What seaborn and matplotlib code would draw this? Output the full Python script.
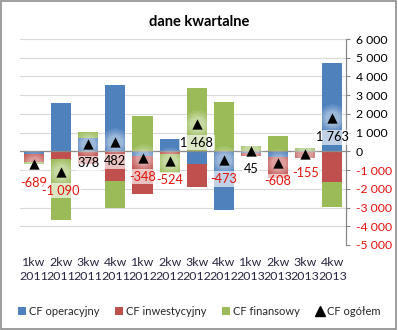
import numpy as np
import pandas as pd
import seaborn as sns
import matplotlib
matplotlib.use("Agg")
import matplotlib.pyplot as plt
from matplotlib.patches import Patch, Rectangle
from matplotlib.lines import Line2D

sns.set_theme(style="white")
plt.rcParams["font.family"] = ["Lato", "DejaVu Sans"]

# Quarterly cash flow data (thousands)
quarters = ["1kw", "2kw", "3kw", "4kw"] * 3
years = ["2011"] * 4 + ["2012"] * 4 + ["2013"] * 4
categories = [f"{q}\n{y}" for q, y in zip(quarters, years)]

cf_operacyjny = [-130, 2560, 720, 3530, -250, 640, -650, -3133, -110, -300, 0, 4720]
cf_inwestycyjny = [-460, -420, -652, -1600, -2010, -150, -1250, 0, -150, -1110, -335, -1620]
cf_finansowy = [-99, -3230, 310, -1448, 1912, -1014, 3368, 2660, 305, 802, 180, -1337]
cf_ogolem = [-689, -1090, 378, 482, -348, -524, 1468, -473, 45, -608, -155, 1763]

series_names = ["CF operacyjny", "CF inwestycyjny", "CF finansowy"]
series_colors = ["#4F81BD", "#C0504D", "#9BBB59"]
series_values = [cf_operacyjny, cf_inwestycyjny, cf_finansowy]

y_ticks = list(range(-5000, 6001, 1000))

fig = plt.figure(figsize=(3.98, 3.30), dpi=100)
ax = fig.add_axes([0.0513, 0.2576, 0.8180, 0.6242])

# Excel-style stacking: positives stack upward, negatives downward, in series order
vals = np.array(series_values, dtype=float)
pos = np.clip(vals, 0, None)
neg = np.clip(vals, None, 0)
pos_cum = np.cumsum(pos, axis=0)
neg_cum = np.cumsum(neg, axis=0)

for k in reversed(range(len(series_names))):
    for cum in (pos_cum[k], neg_cum[k]):
        df = pd.DataFrame({"kat": categories, "v": cum})
        sns.barplot(data=df, x="kat", y="v", order=categories, color=series_colors[k],
                    saturation=1, width=0.74, ax=ax, errorbar=None, linewidth=0, zorder=2)

xs = np.arange(len(categories))

# soft glow around the total markers
for size, alpha in [(420, 0.10), (300, 0.12), (200, 0.15), (120, 0.18)]:
    ax.scatter(xs, cf_ogolem, s=size, color="white", alpha=alpha, linewidths=0, zorder=3)

tot_df = pd.DataFrame({"kat": xs, "v": cf_ogolem})
sns.scatterplot(data=tot_df, x="kat", y="v", marker="^", color="black", s=55,
                edgecolor="black", linewidth=0, ax=ax, zorder=4, legend=False)

def fmt(v):
    s = f"{abs(int(v)):,}".replace(",", " ")
    return ("-" if v < 0 else "") + s

for x, v in zip(xs, cf_ogolem):
    ax.annotate(fmt(v), (x, v), xytext=(0, -13.5), textcoords="offset points",
                ha="center", va="center", fontsize=9.2,
                color="#E3120B" if v < 0 else "black", zorder=5,
                bbox=dict(boxstyle="square,pad=0.12", fc="white", ec="none", alpha=0.65))

ax.set_xlim(-0.5, len(categories) - 0.5)
ax.set_ylim(-5000, 6000)
ax.set_yticks(y_ticks)
ax.set_yticklabels([fmt(t) for t in y_ticks])
ax.yaxis.tick_right()
for lbl, t in zip(ax.get_yticklabels(), y_ticks):
    lbl.set_color("#E3120B" if t < 0 else "black")
ax.tick_params(axis="y", labelsize=8.8, right=True, length=3, width=0.8, color="#888888", pad=4)
ax.tick_params(axis="x", labelsize=8.9, length=0, pad=9, colors="#2B2540")
ax.set_xticks(xs)
ax.set_xticklabels(categories, linespacing=1.3)
ax.set_xlabel("")
ax.set_ylabel("")

ax.grid(axis="y", color="#D9D9D9", linewidth=0.8, zorder=0)
ax.set_axisbelow(True)
ax.axhline(0, color="#8C8C8C", linewidth=0.9, zorder=2.5)
for side in ["top", "left", "bottom"]:
    ax.spines[side].set_visible(False)
ax.spines["right"].set_color("#888888")
ax.spines["right"].set_linewidth(0.9)

fig.text(0.5, 0.932, "dane kwartalne", ha="center", va="center",
         fontsize=10.5, fontweight="bold", color="black")

handles = [Patch(facecolor=c, edgecolor="none") for c in series_colors]
handles.append(Line2D([], [], marker="^", color="black", linestyle="none", markersize=7))
fig.legend(handles, series_names + ["CF ogółem"], loc="center", bbox_to_anchor=(0.5, 0.056),
           ncol=4, frameon=False, fontsize=8, handlelength=0.7, handleheight=0.7,
           handletextpad=0.3, columnspacing=1.4)

fig.patches.append(Rectangle((0.003, 0.004), 0.993, 0.992, transform=fig.transFigure,
                             fill=False, edgecolor="#8C8C8C", linewidth=1.2))

fig.savefig("out.png", dpi=100)
